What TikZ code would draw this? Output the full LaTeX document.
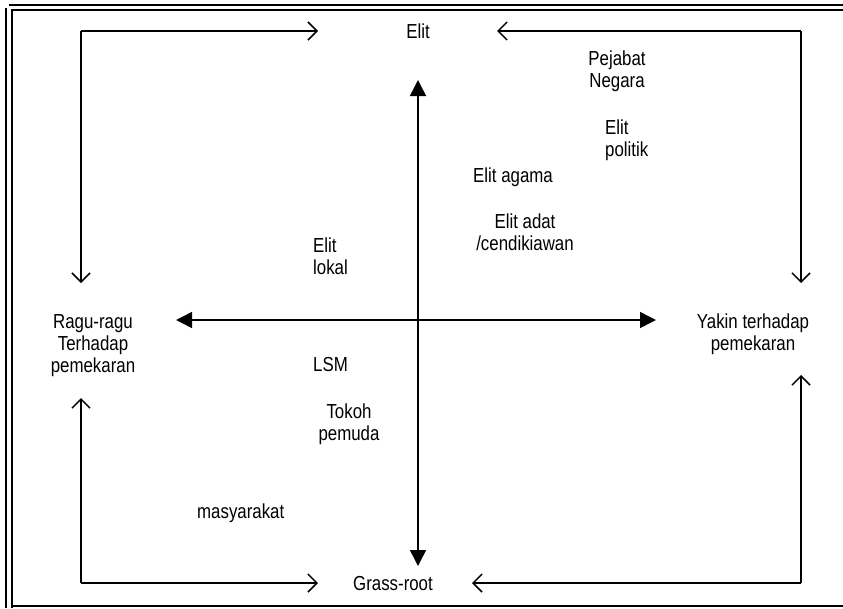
\documentclass[tikz,border=0pt]{standalone}
\usepackage{fontspec}
\setmainfont{Liberation Sans}[FakeStretch=0.83]
\usetikzlibrary{arrows.meta}
\newcommand{\mlc}[1]{\begin{tabular}[t]{@{}c@{}}#1\end{tabular}}
\newcommand{\mll}[1]{\begin{tabular}[t]{@{}l@{}}#1\end{tabular}}
\begin{document}
\begin{tikzpicture}[x=1pt,y=-1pt,
  frameline/.style={line width=1.6pt},
  flow/.style={line width=1.5pt,-{Straight Barb[length=9pt,width=18pt,line width=1.5pt]}},
  axis/.style={line width=1.5pt,{Triangle[length=16pt,width=16pt]}-{Triangle[length=16pt,width=16pt]}},
  lbl/.style={inner sep=0pt,anchor=base,font=\fontsize{20.3}{22}\selectfont},
  lblw/.style={lbl,anchor=base west}]
\useasboundingbox (0,0) rectangle (843,608);
% page frame
\draw[frameline] (9,5) -- (843,5);
\draw[frameline] (12,608) -- (12,10) -- (843,10);
\draw[frameline] (6,8) -- (6,608);
\draw[frameline] (11,606) -- (843,606);
% corners and tips
\coordinate (TL) at (81,31);
\coordinate (TR) at (801,31);
\coordinate (BL) at (81,583);
\coordinate (BR) at (801,583);
\coordinate (tlr) at (318,31);
\coordinate (tld) at (81,283);
\coordinate (trl) at (497,31);
\coordinate (trd) at (801,283);
\coordinate (blu) at (81,398);
\coordinate (blr) at (318,583);
\coordinate (bru) at (801,375);
\coordinate (brl) at (472,583);
\coordinate (vtop) at (418,80);
\coordinate (vbot) at (418,566);
\coordinate (hl) at (176,320);
\coordinate (hr) at (656,320);
% outer flows
\draw[flow] (TL) -- (tlr);
\draw[flow] (TL) -- (tld);
\draw[flow] (TR) -- (trl);
\draw[flow] (TR) -- (trd);
\draw[flow] (BL) -- (blu);
\draw[flow] (BL) -- (blr);
\draw[flow] (BR) -- (bru);
\draw[flow] (BR) -- (brl);
% axes
\draw[axis] (vtop) -- (vbot);
\draw[axis] (hl) -- (hr);
% labels
\node[lbl] (elit) at (418,38) {Elit};
\node[lbl] (grass) at (393,590) {Grass-root};
\node[lbl] (ragu) at (93,328) {\mlc{Ragu-ragu\\Terhadap\\pemekaran}};
\node[lbl] (yakin) at (753,328) {\mlc{Yakin terhadap\\pemekaran}};
\node[lbl] (pejabat) at (617,65) {\mlc{Pejabat\\Negara}};
\node[lblw] (politik) at (605,134) {\mll{Elit\\politik}};
\node[lblw] (agama) at (473,182) {Elit agama};
\node[lbl] (adat) at (525,228) {\mlc{Elit adat\\/cendikiawan}};
\node[lblw] (lokal) at (313,252) {\mll{Elit\\lokal}};
\node[lblw] (lsm) at (313,371) {LSM};
\node[lbl] (tokoh) at (349,418) {\mlc{Tokoh\\pemuda}};
\node[lblw] (masy) at (197,518) {masyarakat};
\end{tikzpicture}
\end{document}
